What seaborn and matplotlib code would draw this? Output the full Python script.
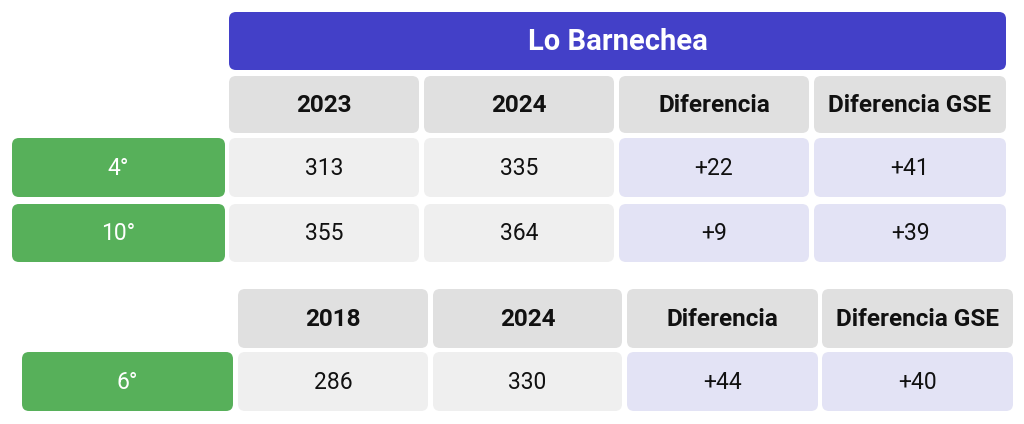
import matplotlib
matplotlib.use("Agg")
import matplotlib.pyplot as plt
import seaborn as sns
from matplotlib.patches import FancyBboxPatch

sns.set_theme(style="white")
plt.rcParams['font.family'] = ['Roboto', 'DejaVu Sans']

# datos de la tabla
titulo = "Lo Barnechea"
encabezado_1 = ["2023", "2024", "Diferencia", "Diferencia GSE"]
filas_1 = ["4°", "10°"]
valores_1 = [["313", "335", "+22", "+41"],
             ["355", "364", "+9", "+39"]]
encabezado_2 = ["2018", "2024", "Diferencia", "Diferencia GSE"]
filas_2 = ["6°"]
valores_2 = [["286", "330", "+44", "+40"]]

AZUL = "#4340c8"
GRIS_H = "#e0e0e0"
GRIS_D = "#efefef"
LILA = "#e3e3f5"
VERDE = "#57b05a"

fig = plt.figure(figsize=(10.24, 4.24), dpi=100)
ax = fig.add_axes([0, 0, 1, 1])
ax.set_xlim(0, 1024)
ax.set_ylim(424, 0)
ax.axis("off")


def caja(x0, y0, x1, y1, color, texto, tc="#111111", peso="normal", tam=16.5):
    r = 7
    p = FancyBboxPatch((x0 + r, y0 + r), (x1 - x0) - 2 * r, (y1 - y0) - 2 * r,
                       boxstyle=f"round,pad={r}", fc=color, ec="none")
    ax.add_patch(p)
    ax.text((x0 + x1) / 2, (y0 + y1) / 2 + 1, texto, ha="center", va="center",
            color=tc, fontweight=peso, fontsize=tam)


def tabla(cols, y_head, filas, valores, y_filas, encabezado, x_lab):
    for (a, b), t in zip(cols, encabezado):
        caja(a, y_head[0], b, y_head[1], GRIS_H, t, peso="bold", tam=17.5)
    for i, (nombre, (f0, f1)) in enumerate(zip(filas, y_filas)):
        caja(x_lab[0], f0, x_lab[1], f1, VERDE, nombre, tc="white")
        for j, ((a, b), v) in enumerate(zip(cols, valores[i])):
            caja(a, f0, b, f1, GRIS_D if j < 2 else LILA, v)


# tabla superior
cols_1 = [(229, 419), (424, 614), (619, 809), (814, 1006)]
caja(229, 12, 1006, 70, AZUL, titulo, tc="white", peso="bold", tam=21)
tabla(cols_1, (76, 133), filas_1, valores_1, [(138, 197), (204, 262)],
      encabezado_1, (12, 225))

# tabla inferior
cols_2 = [(238, 428), (433, 622), (627, 818), (822, 1013)]
tabla(cols_2, (289, 348), filas_2, valores_2, [(352, 411)],
      encabezado_2, (22, 233))

fig.savefig("out.png", dpi=100, facecolor="white")
